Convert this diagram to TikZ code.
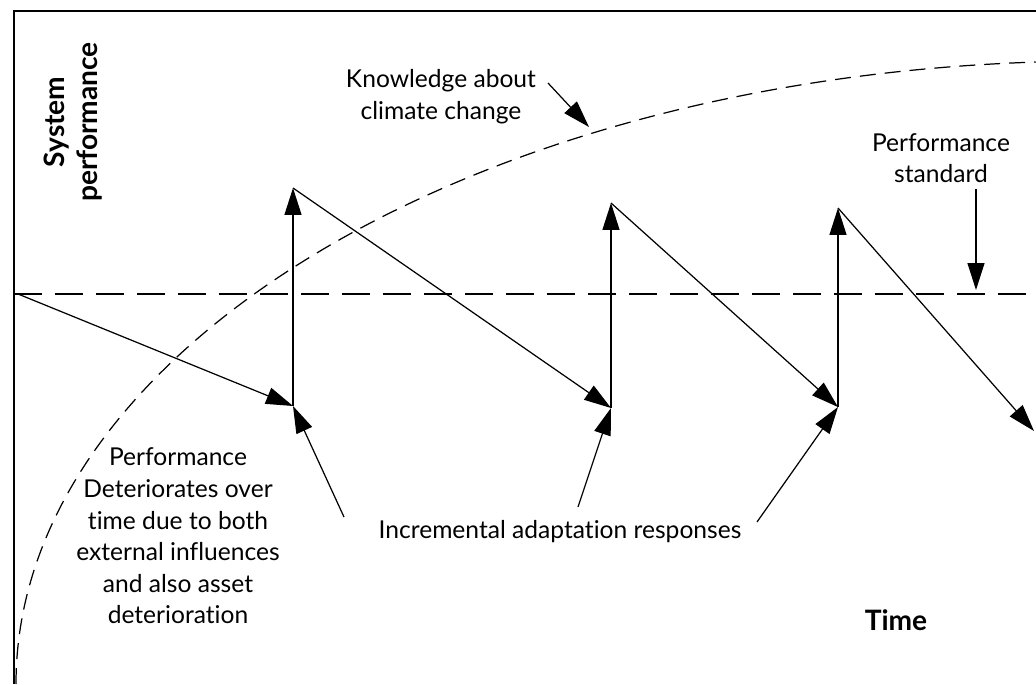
\documentclass[tikz,border=0pt]{standalone}
\usepackage{fontspec}
\setmainfont{Lato}[Ligatures=NoCommon]
\usetikzlibrary{arrows.meta}

\begin{document}
\begin{tikzpicture}[x=0.02cm, y=0.02cm, >={Triangle[length=5.4mm, width=3.4mm]}, line width=0.7pt,
    label/.style={align=center, inner sep=0pt, font=\fontsize{14}{18}\selectfont},
    axis/.style={align=center, inner sep=0pt, font=\fontsize{16}{19}\selectfont\bfseries}]

        \useasboundingbox (0,0) rectangle (1036,684);

        % Frame (left and top only)
        \draw[line width=0.9pt] (14,0) -- (14,673) -- (1036,673);

        % Performance standard (long dashes)
        \draw[dash pattern=on 0.56cm off 0.26cm] (14,390) -- (1036,390);

        % Knowledge about climate change (quarter ellipse)
        \draw[dash pattern=on 0.32cm off 0.18cm] (16,0) arc[start angle=180, end angle=93.3, x radius=1082, y radius=623];

        % Points of the sawtooth
        \coordinate (S0) at (18,390);
        \coordinate (B1) at (293,278);
        \coordinate (P1) at (293,496);
        \coordinate (B2) at (611,276);
        \coordinate (P2) at (611,481);
        \coordinate (B3) at (838,277);
        \coordinate (P3) at (838,476);
        \coordinate (E4) at (1034,253);

        % Deterioration (diagonals) and adaptation (verticals)
        \draw[->] (S0) -- (B1);
        \draw[->, line width=0.85pt] (B1) -- (P1);
        \draw[->] (P1) -- (B2);
        \draw[->, line width=0.85pt] (B2) -- (P2);
        \draw[->] (P2) -- (B3);
        \draw[->, line width=0.85pt] (B3) -- (P3);
        \draw[->] (P3) -- (E4);

        % Axis labels
        \node[axis, rotate=90] (Y) at (73,562) {System\\performance};
        \node[axis] (T) at (896,64) {Time};

        % Text labels
        \node[label] (K) at (441,587) {Knowledge about\\climate change};
        \node[label] (PS) at (941,526) {Performance\\standard};
        \node[label] (D) at (178,148) {Performance\\Deteriorates over\\time due to both\\external influences\\and also asset\\deterioration};
        \node[label] (I) at (560,152) {Incremental adaptation responses};

        % Pointers
        \coordinate (K0) at (548,601);
        \coordinate (K1) at (589,557);
        \draw[->] (K0) -- (K1);
        \coordinate (PS0) at (976,495);
        \coordinate (PS1) at (976,394);
        \draw[->] (PS0) -- (PS1);
        \coordinate (I1) at (344,167);
        \coordinate (I2) at (578,177);
        \coordinate (I3) at (757,162);
        \draw[->] (I1) -- (B1);
        \draw[->] (I2) -- (B2);
        \draw[->] (I3) -- (B3);

\end{tikzpicture}
\end{document}
